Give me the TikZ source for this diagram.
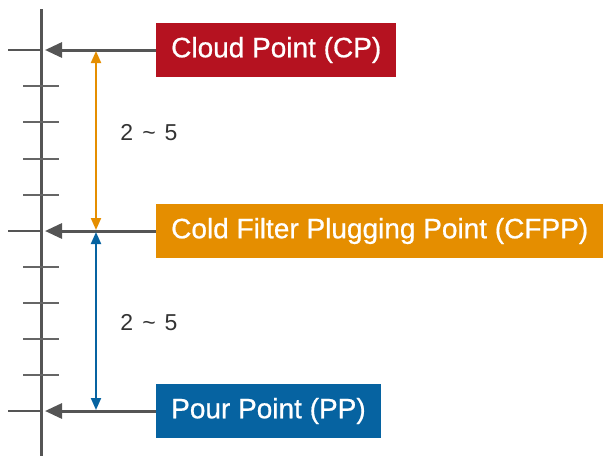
\documentclass[tikz,border=0pt]{standalone}
\usepackage{fontspec}
\setmainfont{Liberation Sans}
\newfontfamily\boxfont{Liberation Sans}[FakeBold=0.7]
\usetikzlibrary{arrows.meta}
\definecolor{cpred}{RGB}{181,18,32}
\definecolor{cfpporange}{RGB}{229,142,0}
\definecolor{ppblue}{RGB}{6,99,161}
\definecolor{axisgray}{RGB}{85,85,85}
\tikzset{
  pointbox/.style={text=white, minimum height=54pt, inner xsep=15pt, inner ysep=0pt,
    anchor=west, font=\boxfont\fontsize{28}{34}\selectfont},
  leader/.style={axisgray, line width=3pt, -{Triangle[length=17pt,width=15pt]}},
  spanarrow/.style={line width=2pt, {Triangle[length=12pt,width=10pt]}-{Triangle[length=12pt,width=10pt]}},
  spanlabel/.style={font=\fontsize{23}{27}\selectfont, text=black!80},
  tickmark/.style={axisgray!90, line width=2pt},
}
\begin{document}
\begin{tikzpicture}[x=1pt, y=-1pt]
    \useasboundingbox (0,0) rectangle (610,456);
    % Temperature axis
    \draw[axisgray, line width=3pt] (41,9) -- (41,456);
    % Major ticks
    \foreach \y in {50,231,411} {
        \draw[axisgray, line width=2.5pt] (8,\y) -- (41,\y);
    }
    % Minor ticks
    \foreach \i in {1,...,4} {
        \draw[tickmark] (23,50+36.2*\i) -- (59,50+36.2*\i);
        \draw[tickmark] (23,231+36*\i) -- (59,231+36*\i);
    }
    % Point boxes
    \node[pointbox, fill=cpred] (cp) at (156,50) {Cloud Point (CP)};
    \node[pointbox, fill=cfpporange] (cfpp) at (156,231) {Cold Filter Plugging Point (CFPP)};
    \node[pointbox, fill=ppblue] (pp) at (156,411) {Pour Point (PP)};
    % Leaders to the axis
    \coordinate (cpaxis) at (45,50);
    \coordinate (cfppaxis) at (45,231);
    \coordinate (ppaxis) at (45,411);
    \draw[leader] (cp.west) -- (cpaxis);
    \draw[leader] (cfpp.west) -- (cfppaxis);
    \draw[leader] (pp.west) -- (ppaxis);
    % Spans between the points
    \coordinate (cptop) at (96,51);
    \coordinate (cfppup) at (96,230);
    \coordinate (cfppdown) at (96,232);
    \coordinate (ppbottom) at (96,410);
    \draw[spanarrow, cfpporange] (cptop) -- (cfppup);
    \draw[spanarrow, ppblue] (cfppdown) -- (ppbottom);
    \node[spanlabel] (upperspan) at (149,133) {2\hspace{9pt}\textasciitilde\hspace{9pt}5};
    \node[spanlabel] (lowerspan) at (149,323) {2\hspace{9pt}\textasciitilde\hspace{9pt}5};
\end{tikzpicture}
\end{document}
